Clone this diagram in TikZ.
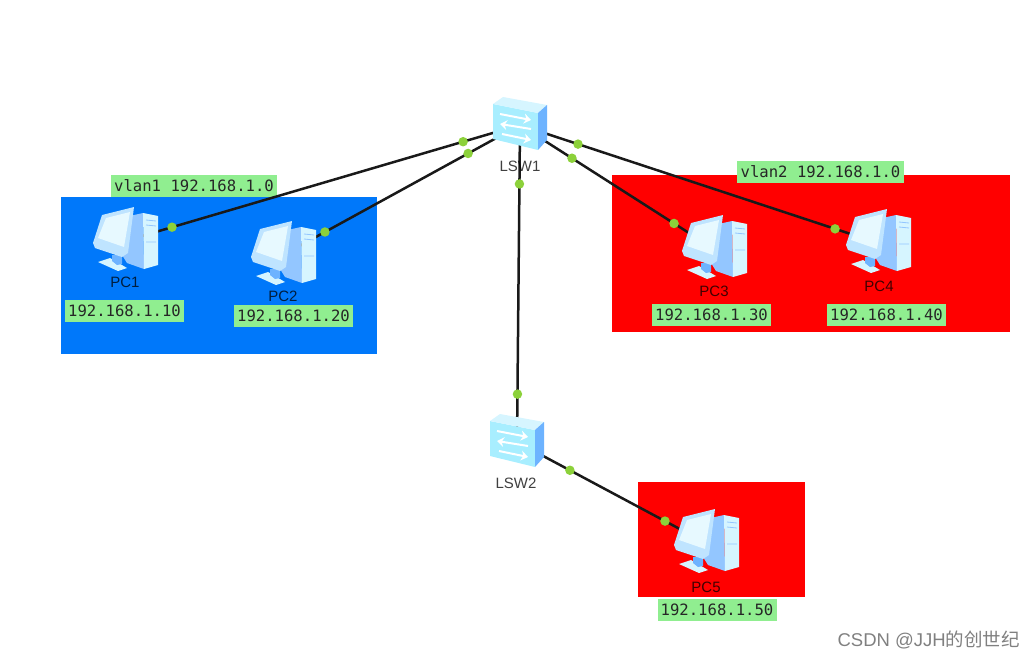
\documentclass[tikz,border=0pt]{standalone}
\usepackage{fontspec}
\setmainfont{Liberation Sans}
\newfontfamily\ipfont{DejaVu Sans Mono}
\newfontfamily\cjkfont{Noto Sans CJK SC}
\usetikzlibrary{calc,arrows.meta}
\definecolor{LGreen}{HTML}{90EE90}
\definecolor{DotGreen}{HTML}{8CD13A}
\definecolor{VBlue}{HTML}{0078FA}
\definecolor{LCyan}{HTML}{D6F5FF}
\definecolor{MCyan}{HTML}{A8EEFF}
\definecolor{SBlue}{HTML}{6DB3FF}
\definecolor{PBlue}{HTML}{93C6FF}
\definecolor{FBlue}{HTML}{BFE4FF}
\NewDocumentCommand{\SwitchIcon}{O{(0,0)}}{
    \begin{scope}[shift={#1}]
    \fill[MCyan] (-27,-21) -- (18,-12) -- (18,25) -- (-27,14) -- cycle;
    \fill[LCyan] (-27,-21) -- (-17,-28) -- (27,-20) -- (18,-12) -- cycle;
    \fill[SBlue] (18,-12) -- (27,-20) -- (27,15) -- (18,25) -- cycle;
    \draw[white, line width=2pt, -{Stealth[length=7, width=10]}] (-20,-11) -- (11,-5);
    \draw[white, line width=2pt, {Stealth[length=7, width=10]}-] (-20,-1) -- (11,4);
    \draw[white, line width=2pt, -{Stealth[length=7, width=10]}] (-18,9) -- (11,15);
    \end{scope}
}
\NewDocumentCommand{\PCIcon}{O{(0,0)}}{
    \begin{scope}[shift={#1}]
    \fill[LCyan] (-27,21) -- (-15,17) -- (2,27) -- (-7,30) -- cycle;
    \fill[SBlue] (-13,14) -- (-3,14) -- (-3,23) -- (-8,24) -- (-13,20) -- cycle;
    \fill[PBlue] (0,-24) -- (18,-28) -- (19,28) -- (2,22) -- (-3,14) -- cycle;
    \fill[LCyan] (18,-28) -- (33,-25) -- (33,24) -- (19,28) -- cycle;
    \fill[FBlue] (-32,2) -- (-23,-26) -- (9,-34) -- (3,12) -- (-3,16) -- (-30,7) -- cycle;
    \fill[LCyan!60!white] (-27,-3) -- (-19,-23) -- (5,-29) -- (-1,6) -- cycle;
    \draw[PBlue, line width=.8pt] (21,-21) -- (31,-20) (21,-16) -- (31,-15) (21,1) -- (31,1);
    \end{scope}
}
\tikzset{
    iplabel/.style={fill=LGreen, font=\ipfont\fontsize{15.6}{18}\selectfont, text=black!85, inner sep=0pt, minimum height=22, minimum width=119},
    devlabel/.style={font=\fontsize{15}{17}\selectfont, text=black, text opacity=0.75, inner sep=0pt},
    link/.style={black!90, line width=2.5pt},
    portdot/.style={circle, fill=DotGreen, inner sep=0pt, minimum size=9.5}
}
\begin{document}
\begin{tikzpicture}[x=1pt, y=-1pt]
\useasboundingbox (0,0) rectangle (1034,658);

% areas
\fill[VBlue] (61,197) rectangle (377,354);
\fill[red] (612,175) rectangle (1010,332);
\fill[red] (638,482) rectangle (805,597);

\coordinate (LSW1) at (520,125);
\coordinate (LSW2) at (517,442);
\coordinate (PC1) at (125,241);
\coordinate (PC2) at (283,255);
\coordinate (PC3) at (714,249);
\coordinate (PC4) at (878,243);
\coordinate (PC5) at (706,543);

\node[iplabel, minimum width=166] (vlan1) at (194,186) {vlan1 192.168.1.0};
\node[iplabel, minimum width=167] (vlan2) at (820.5,172) {vlan2 192.168.1.0};

\draw[link] (LSW1) -- node[portdot, pos=0.144] (d1a) {} node[portdot, pos=0.881] (d1b) {} (PC1);
\draw[link] (LSW1) -- node[portdot, pos=0.219] (d2a) {} node[portdot, pos=0.823] (d2b) {} (PC2);
\draw[link] (LSW1) -- node[portdot, pos=0.268] (d3a) {} node[portdot, pos=0.794] (d3b) {} (PC3);
\draw[link] (LSW1) -- node[portdot, pos=0.162] (d4a) {} node[portdot, pos=0.880] (d4b) {} (PC4);
\draw[link] (LSW1) -- node[portdot, pos=0.186] (d5a) {} node[portdot, pos=0.849] (d5b) {} (LSW2);
\draw[link] (LSW2) -- node[portdot, pos=0.280] (d6a) {} node[portdot, pos=0.783] (d6b) {} (PC5);

\SwitchIcon[(LSW1)]
\SwitchIcon[(LSW2)]
\PCIcon[(PC1)]
\PCIcon[(PC2)]
\PCIcon[(PC3)]
\PCIcon[(PC4)]
\PCIcon[(PC5)]

\node[devlabel] (lsw1-name) at (520,166) {LSW1};
\node[devlabel] (lsw2-name) at (516,483) {LSW2};
\node[devlabel] (pc1-name) at (125,282) {PC1};
\node[devlabel] (pc2-name) at (283,296) {PC2};
\node[devlabel] (pc3-name) at (714,291) {PC3};
\node[devlabel] (pc4-name) at (879,286) {PC4};
\node[devlabel] (pc5-name) at (706,587) {PC5};

\node[iplabel] (ip1) at (124.5,311) {192.168.1.10};
\node[iplabel] (ip2) at (293.5,316) {192.168.1.20};
\node[iplabel] (ip3) at (711.5,315) {192.168.1.30};
\node[iplabel] (ip4) at (886.5,315) {192.168.1.40};
\node[iplabel] (ip5) at (717,610) {192.168.1.50};

\node[font=\fontsize{18.5}{20}\selectfont, text=black!50, anchor=east, inner sep=0pt] (mark) at (1020,640) {CSDN @JJH{\cjkfont 的创世纪}};
\end{tikzpicture}
\end{document}
